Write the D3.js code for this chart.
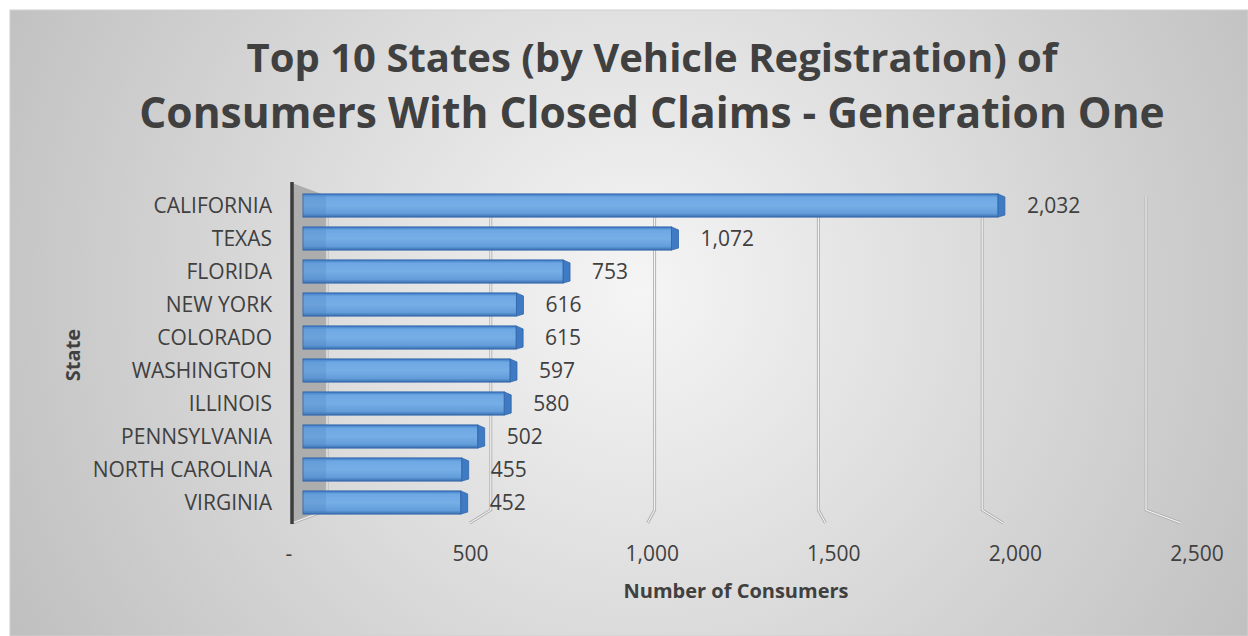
<!DOCTYPE html>
<html>
<head>
<meta charset="utf-8">
<script src="https://cdn.jsdelivr.net/npm/d3@7"></script>
<style>
  body { margin: 0; background: #ffffff; }
  text { font-family: "Open Sans", "DejaVu Sans", sans-serif; fill: #404040; }
</style>
</head>
<body>
<div id="chart"></div>
<script>
"use strict";

const states = ["CALIFORNIA", "TEXAS", "FLORIDA", "NEW YORK", "COLORADO",
    "WASHINGTON", "ILLINOIS", "PENNSYLVANIA", "NORTH CAROLINA", "VIRGINIA"];
const consumers = [2032, 1072, 753, 616, 615, 597, 580, 502, 455, 452];
const tickValues = [0, 500, 1000, 1500, 2000, 2500];
const tickLabels = ["-", "500", "1,000", "1,500", "2,000", "2,500"];
const titleLines = ["Top 10 States (by Vehicle Registration) of",
    "Consumers With Closed Claims - Generation One"];

const msm = {
    width: 1248,
    height: 636,
    wallTop: 196,
    wallBottom: 510,
    floorFront: 523
}

let svg = d3.select("#chart")
    .append("svg")
    .attr("width", msm.width)
    .attr("height", msm.height);

let defs = svg.append("defs");

// background gradient
let bg = defs.append("radialGradient")
    .attr("id", "bg")
    .attr("gradientUnits", "userSpaceOnUse")
    .attr("cx", 640).attr("cy", 290).attr("r", 720);
bg.append("stop").attr("offset", "0%").attr("stop-color", "#f5f5f5");
bg.append("stop").attr("offset", "100%").attr("stop-color", "#bfbfbf");

// bar front gradient
let barGrad = defs.append("linearGradient")
    .attr("id", "barFront")
    .attr("x1", 0).attr("y1", 0).attr("x2", 0).attr("y2", 1);
[["0%", "#3a78c2"], ["14%", "#6ea8e4"], ["50%", "#76aee6"], ["84%", "#639dda"], ["100%", "#3a6fb0"]]
    .forEach((s) => barGrad.append("stop").attr("offset", s[0]).attr("stop-color", s[1]));

svg.append("rect")
    .attr("x", 10).attr("y", 10)
    .attr("width", msm.width - 10).attr("height", msm.height - 10)
    .attr("fill", "url(#bg)")
    .attr("stroke", "#d0d0d0")
    .attr("stroke-width", 1);

// scales: back wall, front floor edge, bars and tick labels sit at different depths
let xBack = d3.scaleLinear().domain([0, 2500]).range([327, 1146]);
let xFront = d3.scaleLinear().domain([0, 2500]).range([292, 1181]);
let xBar = d3.scaleLinear().domain([0, 2500]).range([314, 1164]);
let xLabel = d3.scaleLinear().domain([0, 2500]).range([289, 1197]);
let y = d3.scaleBand().domain(states).range([188.5, 518.5]).paddingInner(0.33).paddingOuter(0.165);

// title
svg.selectAll(".title")
    .data(titleLines)
    .enter()
    .append("text")
    .attr("class", "title")
    .attr("x", 652)
    .attr("y", (d, i) => 72 + i * 56)
    .attr("text-anchor", "middle")
    .style("font-size", (d, i) => i == 0 ? "40px" : "42.5px")
    .style("font-weight", "bold")
    .text((d) => d);

// left wall
svg.append("polygon")
    .attr("points", [[292, 183], [xBack(0), msm.wallTop], [xBack(0), msm.wallBottom], [292, msm.floorFront]].join(" "))
    .attr("fill", "#adadad");

// gridlines (back wall + floor bend)
let gridPath = (t) => "M" + xBack(t) + "," + msm.wallTop + "L" + xBack(t) + "," + msm.wallBottom +
    "L" + xFront(t) + "," + msm.floorFront;
svg.selectAll(".gridOuter")
    .data(tickValues)
    .enter()
    .append("path")
    .attr("d", gridPath)
    .attr("fill", "none")
    .attr("stroke", "#b4b4b4")
    .attr("stroke-width", 3);
svg.selectAll(".gridInner")
    .data(tickValues)
    .enter()
    .append("path")
    .attr("d", gridPath)
    .attr("fill", "none")
    .attr("stroke", "#fafafa")
    .attr("stroke-width", 1);

// wall front edge
svg.append("line")
    .attr("x1", 292).attr("x2", 292)
    .attr("y1", 182).attr("y2", msm.floorFront + 1)
    .attr("stroke", "#3d3d3d")
    .attr("stroke-width", 3.5);

// bars
let bars = svg.selectAll(".bar")
    .data(states)
    .enter()
    .append("g")
    .attr("class", "bar");

bars.append("polygon")
    .attr("points", (d, i) => {
        let x1 = xBar(consumers[i]) - 7, top = y(d), bot = y(d) + y.bandwidth();
        return [[x1, top], [x1 + 7, top + 3], [x1 + 7, bot - 1], [x1, bot + 1]].join(" ");
    })
    .attr("fill", "#3f7bc4")
    .attr("stroke", "#2f64a5")
    .attr("stroke-width", 0.8);

bars.append("rect")
    .attr("x", 303)
    .attr("y", (d) => y(d))
    .attr("width", (d, i) => xBar(consumers[i]) - 7 - 303)
    .attr("height", y.bandwidth() + 1)
    .attr("fill", "url(#barFront)")
    .attr("stroke", "#3569ab")
    .attr("stroke-width", 1);

// part of bar inside the wall looks a bit duller
bars.append("rect")
    .attr("x", 304)
    .attr("y", (d) => y(d) + 2)
    .attr("width", 22)
    .attr("height", y.bandwidth() - 3)
    .attr("fill", "#3c6fae")
    .attr("opacity", 0.18);

// value labels
svg.selectAll(".value")
    .data(consumers)
    .enter()
    .append("text")
    .attr("x", (d) => xBar(d) + 22)
    .attr("y", (d, i) => y(states[i]) + y.bandwidth() / 2)
    .attr("dy", "0.36em")
    .style("font-size", "21px")
    .text((d) => d3.format(",")(d));

// category labels
svg.selectAll(".cat")
    .data(states)
    .enter()
    .append("text")
    .attr("x", 272)
    .attr("y", (d) => y(d) + y.bandwidth() / 2)
    .attr("dy", "0.36em")
    .attr("text-anchor", "end")
    .style("font-size", "21px")
    .text((d) => d);

// x tick labels
svg.selectAll(".tick")
    .data(tickValues)
    .enter()
    .append("text")
    .attr("x", (d) => xLabel(d))
    .attr("y", 561)
    .attr("text-anchor", "middle")
    .style("font-size", "21px")
    .text((d, i) => tickLabels[i]);

// axis titles
svg.append("text")
    .attr("x", 736)
    .attr("y", 598)
    .attr("text-anchor", "middle")
    .style("font-size", "20px")
    .style("font-weight", "bold")
    .text("Number of Consumers");

svg.append("text")
    .attr("transform", "translate(80, 355) rotate(-90)")
    .attr("text-anchor", "middle")
    .style("font-size", "20px")
    .style("font-weight", "bold")
    .text("State");
</script>
</body>
</html>
